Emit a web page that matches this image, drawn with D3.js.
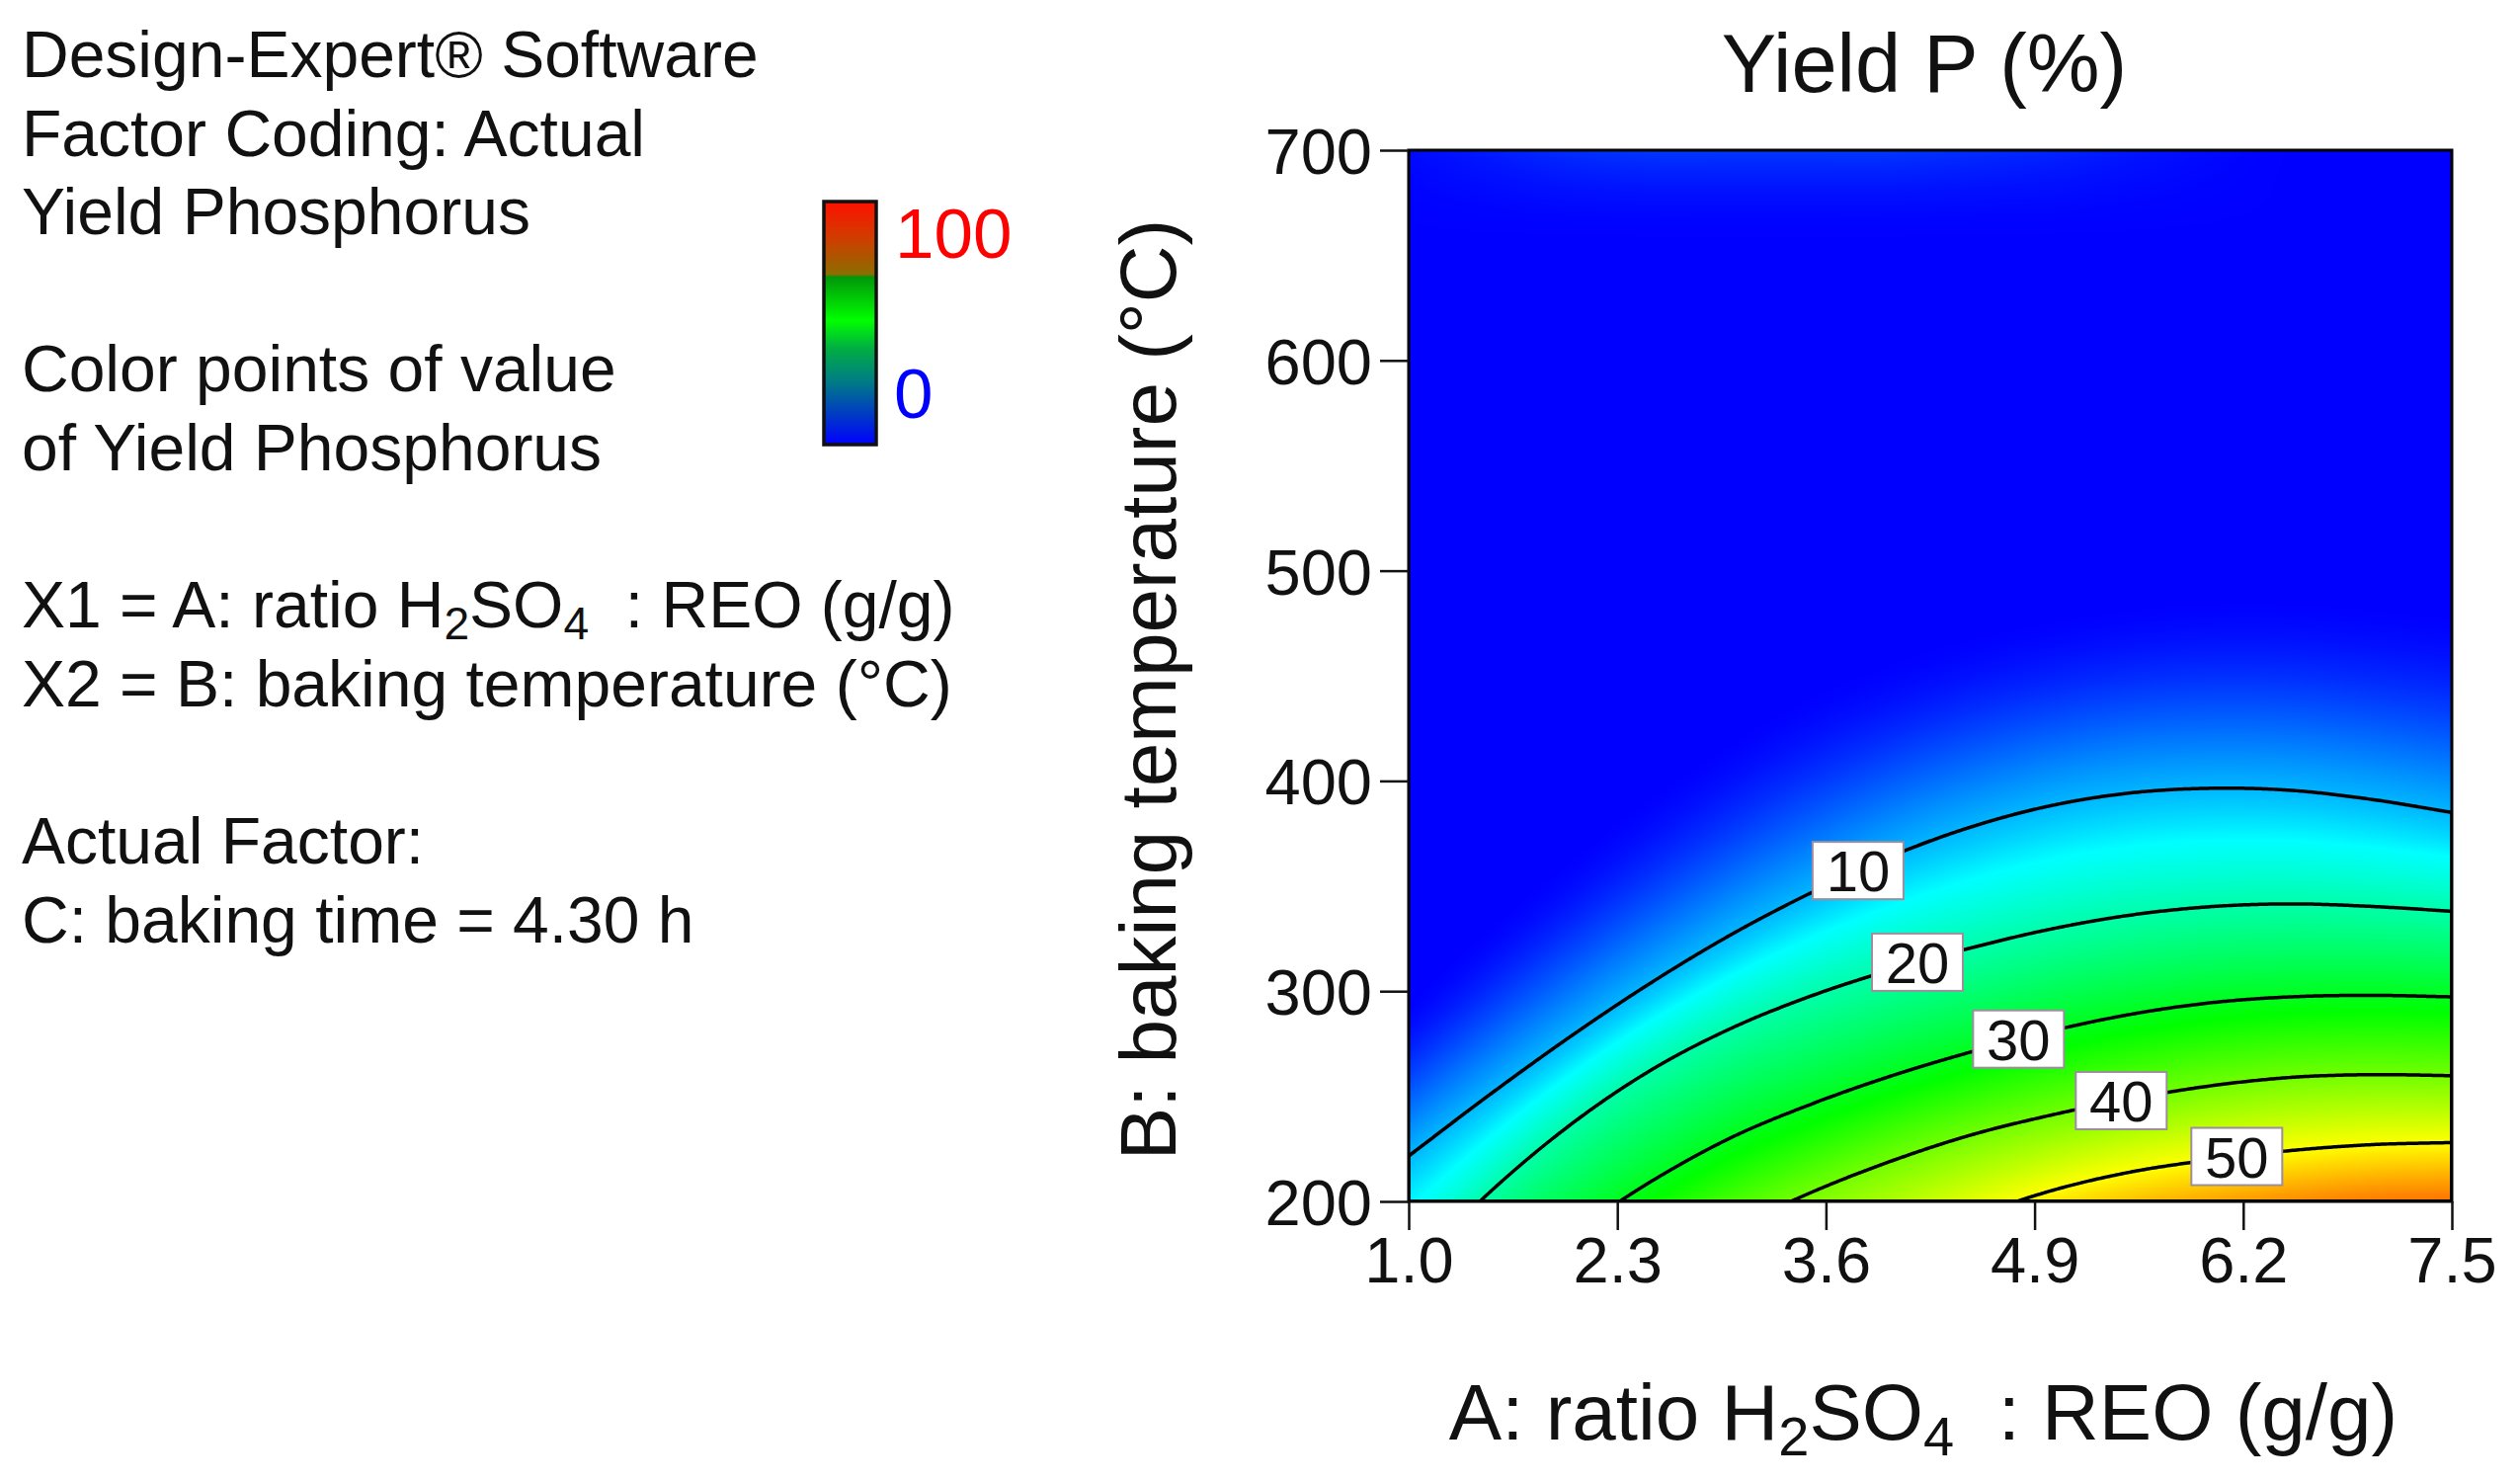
<!DOCTYPE html>
<html>
<head>
<meta charset="utf-8">
<script src="https://cdn.jsdelivr.net/npm/d3@7"></script>
<style>
  body { margin: 0; background: #fff; }
  svg text { font-family: "Liberation Sans", Arial, sans-serif; fill: #111; }
</style>
</head>
<body>
<svg id="chart" width="2551" height="1500"></svg>
<script>
// values: for each yield level, the baking temperature (°C)
// at which that level is reached, one entry per ratio column
const ratioValues = [1.0, 1.5, 2.0, 2.5, 3.0, 3.5, 4.0, 4.5, 5.0, 5.5, 6.0, 6.5, 7.0, 7.5];
const yieldLevels = [0, 10, 20, 30, 40, 50, 60];
const tempAt0  = [295, 330, 362, 392, 418, 440, 456, 468, 476, 482, 485, 485, 482, 478];
const tempAt10 = [221.6, 250.5, 278, 303.5, 326.5, 346.5, 364, 378, 388.2, 394.3, 396.5, 395.5, 391.2, 385];
const tempAt20 = [166, 204, 236, 262, 282, 297.5, 310, 320.5, 329.5, 336.2, 340.2, 341.5, 340.3, 338];
const tempAt30 = [136, 160, 184, 209, 230, 246, 259.5, 271, 281, 289, 294.5, 297.3, 298, 297.3];
const tempAt40 = [105, 126, 147, 167, 186, 204, 219, 231.5, 241, 248.8, 255, 259, 260.3, 259.8];
const tempAt50 = [68, 86, 104, 122, 140, 158, 175, 192, 205, 214, 219.8, 224.2, 227, 228];
const tempAt60 = [44, 60, 76, 92, 108, 124, 140, 155, 168, 178, 185, 191, 195, 197];
// faint rise of the yield along the 700 °C edge
const topEdgeYield = [0.5, 1.5, 2.5, 3, 3, 3, 3, 2.5, 2, 1.2, 0.5, 0, 0, 0];

const contourLevels = [10, 20, 30, 40, 50];
const labelRatios = [3.8, 4.17, 4.8, 5.44, 6.16];   // where each contour label sits
const xTickValues = [1.0, 2.3, 3.6, 4.9, 6.2, 7.5];
const yTickValues = [200, 300, 400, 500, 600, 700];

const infoLines = [
  [1, "Design-Expert® Software"],
  [2, "Factor Coding: Actual"],
  [3, "Yield Phosphorus"],
  [5, "Color points of value"],
  [6, "of Yield Phosphorus"],
  [8, "X1 = A: ratio H_2SO_4  : REO (g/g)"],
  [9, "X2 = B: baking temperature (°C)"],
  [11, "Actual Factor:"],
  [12, "C: baking time = 4.30 h"]
];

const levelTemps = [tempAt0, tempAt10, tempAt20, tempAt30, tempAt40, tempAt50, tempAt60];

const svg = d3.select("#chart");

// plot area
const x = d3.scaleLinear().domain([1, 7.5]).range([1426, 2482]);
const y = d3.scaleLinear().domain([200, 700]).range([1216, 152]);
const W = 1056, H = 1064;

// heat map colours (blue - cyan - green - yellow - red)
const color = d3.scaleLinear()
  .domain([0, 14, 32, 50, 66])
  .range(["#0000ff", "#00ffff", "#00ff00", "#ffff00", "#ff0000"])
  .clamp(true);

const colIndex = d3.scaleLinear()
  .domain([ratioValues[0], ratioValues[ratioValues.length - 1]])
  .range([0, ratioValues.length - 1]);

// catmull-rom lookup along the ratio columns
function sample(arr, u) {
  const n = arr.length;
  let i = Math.floor(u);
  if (i > n - 2) i = n - 2;
  if (i < 0) i = 0;
  const t = u - i;
  const g = k => k < 0 ? 2 * arr[0] - arr[1] : (k > n - 1 ? 2 * arr[n - 1] - arr[n - 2] : arr[k]);
  const p0 = g(i - 1), p1 = g(i), p2 = g(i + 1), p3 = g(i + 2);
  const m1 = (p2 - p0) / 2, m2 = (p3 - p1) / 2;
  const t2 = t * t, t3 = t2 * t;
  return (2 * t3 - 3 * t2 + 1) * p1 + (t3 - 2 * t2 + t) * m1 + (-2 * t3 + 3 * t2) * p2 + (t3 - t2) * m2;
}

// yield-vs-temperature profile for one ratio (monotone hermite through the level crossings)
function profile(ratio) {
  const u = colIndex(ratio);
  const ts = levelTemps.map(a => sample(a, u)).reverse();   // ascending temperature
  const vs = yieldLevels.slice().reverse();                 // 60 ... 0
  const n = ts.length;
  const d = d3.range(n - 1).map(i => (vs[i + 1] - vs[i]) / (ts[i + 1] - ts[i]));
  const m = new Array(n);
  m[0] = d[0];
  m[n - 1] = 0.2 * d[n - 2];
  for (let i = 1; i < n - 1; i++) {
    m[i] = d[i - 1] * d[i] <= 0 ? 0 : 2 / (1 / d[i - 1] + 1 / d[i]);
  }
  const glow = Math.max(0, sample(topEdgeYield, u));
  return function (temp) {
    let v;
    if (temp >= ts[n - 1]) v = 0;
    else if (temp <= ts[0]) v = vs[0] + d[0] * (temp - ts[0]);
    else {
      let i = 0;
      while (temp > ts[i + 1]) i++;
      const h = ts[i + 1] - ts[i], t = (temp - ts[i]) / h;
      const t2 = t * t, t3 = t2 * t;
      v = (2 * t3 - 3 * t2 + 1) * vs[i] + (t3 - 2 * t2 + t) * h * m[i] +
          (-2 * t3 + 3 * t2) * vs[i + 1] + (t3 - t2) * h * m[i + 1];
    }
    const s = Math.max(0, (temp - 655) / 45);
    return Math.max(v, glow * s * s, 0);
  };
}

// heat map into a canvas, then into the svg
const canvas = document.createElement("canvas");
canvas.width = W;
canvas.height = H;
const ctx = canvas.getContext("2d");
const img = ctx.createImageData(W, H);
const tempAtPx = d3.range(H).map(py => y.invert(152 + py + 0.5));
for (let px = 0; px < W; px++) {
  const f = profile(x.invert(1426 + px + 0.5));
  for (let py = 0; py < H; py++) {
    const c = d3.rgb(color(f(tempAtPx[py])));
    const k = (py * W + px) * 4;
    img.data[k] = c.r; img.data[k + 1] = c.g; img.data[k + 2] = c.b; img.data[k + 3] = 255;
  }
}
ctx.putImageData(img, 0, 0);

svg.append("image")
  .attr("x", 1426).attr("y", 152)
  .attr("width", W).attr("height", H)
  .attr("preserveAspectRatio", "none")
  .attr("href", canvas.toDataURL());

// contour lines
const nx = W / 2, ny = H / 2;
const field = new Float64Array(nx * ny);
for (let i = 0; i < nx; i++) {
  const f = profile(x.invert(1426 + (i + 0.5) * 2));
  for (let j = 0; j < ny; j++) {
    field[j * nx + i] = f(y.invert(152 + (j + 0.5) * 2));
  }
}
const contours = d3.contours().size([nx, ny]).thresholds(contourLevels)(field);

svg.append("clipPath").attr("id", "plotClip")
  .append("rect").attr("x", 1426).attr("y", 152).attr("width", W).attr("height", H);

svg.append("g")
  .attr("clip-path", "url(#plotClip)")
  .selectAll("path")
  .data(contours)
  .join("path")
  .attr("d", d3.geoPath(d3.geoIdentity().scale(2).translate([1426, 152])))
  .attr("fill", "none")
  .attr("stroke", "#000")
  .attr("stroke-width", 3.5);

// contour labels, placed on the level crossing at the chosen ratio
const labels = contourLevels.map((lv, i) => {
  const a = labelRatios[i];
  const k = yieldLevels.indexOf(lv);
  return { level: lv, ratio: a, temp: sample(levelTemps[k], colIndex(a)) };
});

const lab = svg.append("g").selectAll("g")
  .data(labels)
  .join("g")
  .attr("transform", d => `translate(${x(d.ratio)}, ${y(d.temp)})`);
lab.append("rect")
  .attr("x", -46).attr("y", -29).attr("width", 92).attr("height", 58)
  .attr("fill", "#fff")
  .attr("stroke", "#9d8d9d")
  .attr("stroke-width", 2);
lab.append("text")
  .attr("text-anchor", "middle")
  .attr("y", 21)
  .attr("font-size", 58)
  .text(d => d.level);

// frame
svg.append("rect")
  .attr("x", 1426).attr("y", 152).attr("width", W).attr("height", H)
  .attr("fill", "none").attr("stroke", "#000").attr("stroke-width", 3);

// axes
const xAxis = svg.append("g")
  .attr("transform", "translate(0,1216)")
  .call(d3.axisBottom(x).tickValues(xTickValues).tickFormat(d3.format(".1f")).tickSize(29).tickPadding(7).tickSizeOuter(0));
const yAxis = svg.append("g")
  .attr("transform", "translate(1426,0)")
  .call(d3.axisLeft(y).tickValues(yTickValues).tickSize(29).tickPadding(8).tickSizeOuter(0));
[xAxis, yAxis].forEach(ax => {
  ax.select(".domain").remove();
  ax.selectAll(".tick line").attr("stroke", "#111").attr("stroke-width", 2.5);
  ax.selectAll(".tick text")
    .attr("font-size", 65)
    .attr("font-family", "Liberation Sans, Arial, sans-serif")
    .attr("fill", "#111");
});
yAxis.selectAll(".tick text").attr("dy", "0.36em");

// rich text helper: "_2" becomes a subscript 2
function richText(sel, str, size, subShift) {
  let back = 0;
  str.split(/(_\d)/).forEach(part => {
    if (!part) return;
    if (part[0] === "_") {
      sel.append("tspan").attr("font-size", size * 0.7).attr("dy", subShift - back).text(part[1]);
      back = subShift;
    } else {
      const ts = sel.append("tspan").text(part);
      if (back) ts.attr("dy", -back);
      back = 0;
    }
  });
}

// title and axis titles
svg.append("text")
  .attr("x", 1948).attr("y", 93)
  .attr("text-anchor", "middle")
  .attr("font-size", 83)
  .text("Yield P (%)");

const xTitle = svg.append("text")
  .attr("x", 1947).attr("y", 1457)
  .attr("text-anchor", "middle")
  .attr("font-size", 80)
  .style("white-space", "pre");
richText(xTitle, "A: ratio H_2SO_4  : REO (g/g)", 80, 16);

svg.append("text")
  .attr("transform", "translate(1190,698) rotate(-90)")
  .attr("text-anchor", "middle")
  .attr("font-size", 80)
  .text("B: baking temperature (°C)");

// info text at the left
infoLines.forEach(([n, str]) => {
  const t = svg.append("text")
    .attr("x", 22).attr("y", 78 + (n - 1) * 79.6)
    .attr("font-size", 66)
    .style("white-space", "pre");
  richText(t, str, 66, 12);
});

// colour bar
const grad = svg.append("defs").append("linearGradient")
  .attr("id", "barGrad").attr("x1", 0).attr("y1", 0).attr("x2", 0).attr("y2", 1);
[[0, "#ff1000"], [0.15, "#d03c00"], [0.3, "#8c6e00"], [0.31, "#00960a"], [0.49, "#00ff00"],
 [0.6, "#00b040"], [0.73, "#008080"], [1, "#0000ff"]].forEach(([o, c]) => {
  grad.append("stop").attr("offset", o).attr("stop-color", c);
});
svg.append("rect")
  .attr("x", 834).attr("y", 204).attr("width", 53).attr("height", 246)
  .attr("fill", "url(#barGrad)")
  .attr("stroke", "#111").attr("stroke-width", 3.5);
svg.append("text")
  .attr("x", 906).attr("y", 261)
  .attr("font-size", 71)
  .style("fill", "#ff0000")
  .text("100");
svg.append("text")
  .attr("x", 905).attr("y", 423)
  .attr("font-size", 71)
  .style("fill", "#0000ff")
  .text("0");
</script>
</body>
</html>
